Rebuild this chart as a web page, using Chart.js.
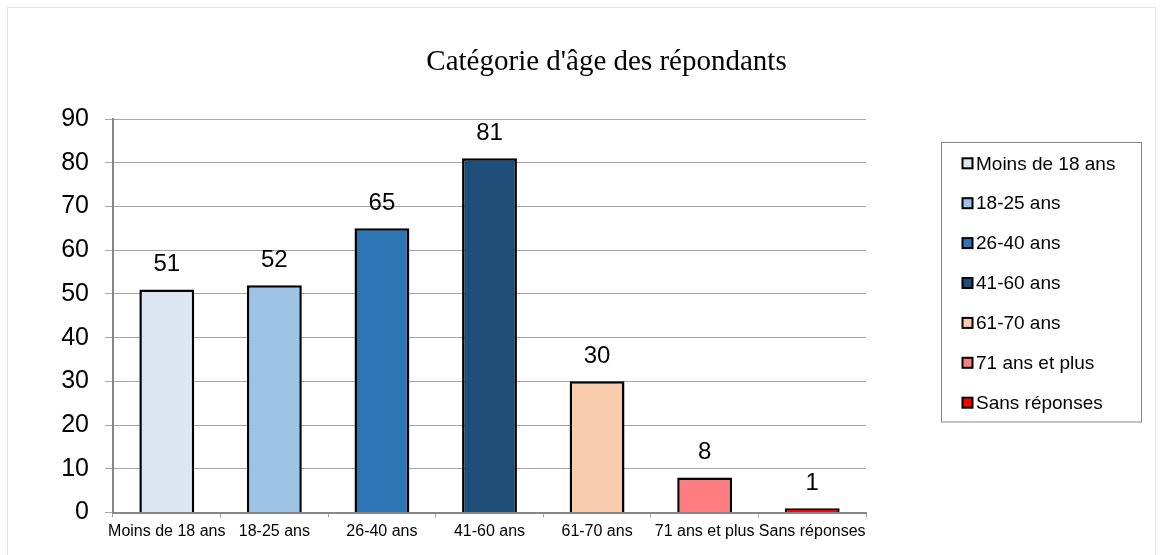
<!DOCTYPE html>
<html><head><meta charset="utf-8">
<script src="https://cdn.jsdelivr.net/npm/chart.js@4.4.0/dist/chart.umd.min.js"></script>
<style>html,body{margin:0;padding:0;background:#fff}#wrap{position:relative;width:1164px;height:555px}canvas{display:block}</style>
</head><body><div id="wrap"><canvas id="c" width="1164" height="555"></canvas></div>
<script>
const chartTitle = "Catégorie d'âge des répondants";
const categories = ["Moins de 18 ans", "18-25 ans", "26-40 ans", "41-60 ans", "61-70 ans", "71 ans et plus", "Sans réponses"];
const values = [51, 52, 65, 81, 30, 8, 1];
const barColors = ["#dce6f2", "#9dc3e6", "#2e75b6", "#1f4e79", "#f8cbad", "#ff7c80", "#ff0000"];
const yMin = 0, yMax = 90, yStep = 10;

const SANS = "'Liberation Sans', Arial, sans-serif";
const SERIF = "'Liberation Serif', 'Times New Roman', serif";

const decorPlugin = {
  id: 'decor',
  beforeDraw(chart) {
    const ctx = chart.ctx;
    ctx.save();
    ctx.fillStyle = '#fff';
    ctx.fillRect(0, 0, chart.width, chart.height);
    ctx.strokeStyle = '#e3e3e3';
    ctx.lineWidth = 1;
    ctx.strokeRect(7.5, 7.5, 1148, 560);
    ctx.restore();
  },
  afterDraw(chart) {
    const ctx = chart.ctx;
    ctx.save();
    // title
    ctx.fillStyle = '#000';
    ctx.font = "29px " + SERIF;
    ctx.textAlign = 'center';
    ctx.textBaseline = 'middle';
    ctx.fillText(chartTitle, 606.5, 62);
    // legend
    ctx.strokeStyle = '#888';
    ctx.lineWidth = 1;
    ctx.strokeRect(941.5, 142.5, 200, 279.5);
    const labels = chart.data.labels;
    const colors = chart.data.datasets[0].backgroundColor;
    ctx.textAlign = 'left';
    ctx.font = "19px " + SANS;
    labels.forEach((lab, i) => {
      const cy = 163.3 + i * 39.9;
      ctx.fillStyle = colors[i];
      ctx.fillRect(962.5, cy - 5, 10, 10);
      ctx.strokeStyle = '#000';
      ctx.lineWidth = 2;
      ctx.strokeRect(962.5, cy - 5, 10, 10);
      ctx.fillStyle = '#000';
      ctx.fillText(lab, 976, cy + 1);
    });
    ctx.restore();
  },
  afterDatasetsDraw(chart) {
    const ctx = chart.ctx;
    const meta = chart.getDatasetMeta(0);
    ctx.save();
    ctx.fillStyle = '#000';
    ctx.font = "24px " + SANS;
    ctx.textAlign = 'center';
    ctx.textBaseline = 'middle';
    meta.data.forEach((bar, i) => {
      ctx.fillText(String(chart.data.datasets[0].data[i]), bar.x, bar.y - 25);
    });
    ctx.restore();
  }
};

new Chart(document.getElementById('c'), {
  type: 'bar',
  data: {
    labels: categories,
    datasets: [{
      data: values,
      backgroundColor: barColors,
      borderColor: '#000',
      borderWidth: 2.5,
      barPercentage: 0.51,
      categoryPercentage: 1
    }]
  },
  options: {
    responsive: false,
    animation: false,
    devicePixelRatio: 1,
    layout: { padding: { left: 0, right: 298, top: 119, bottom: 12.5 } },
    plugins: {
      legend: { display: false },
      title: { display: false },
      tooltip: { enabled: false }
    },
    scales: {
      y: {
        min: yMin, max: yMax,
        ticks: { stepSize: yStep, color: '#000', font: { family: SANS, size: 25 }, padding: 16 },
        grid: { color: '#a6a6a6', lineWidth: 1, tickLength: 8, tickColor: '#a6a6a6' },
        border: { color: '#868686', width: 2 },
        afterFit: s => { s.width = 113; }
      },
      x: {
        offset: true,
        ticks: { color: '#000', font: { family: SANS, size: 16 }, padding: 4, maxRotation: 0, autoSkip: false },
        grid: { offset: true, drawOnChartArea: false, tickLength: 5, color: '#a6a6a6' },
        border: { color: '#868686', width: 2 },
        afterFit: s => { s.height = 30; }
      }
    }
  },
  plugins: [decorPlugin]
});
</script></body></html>
